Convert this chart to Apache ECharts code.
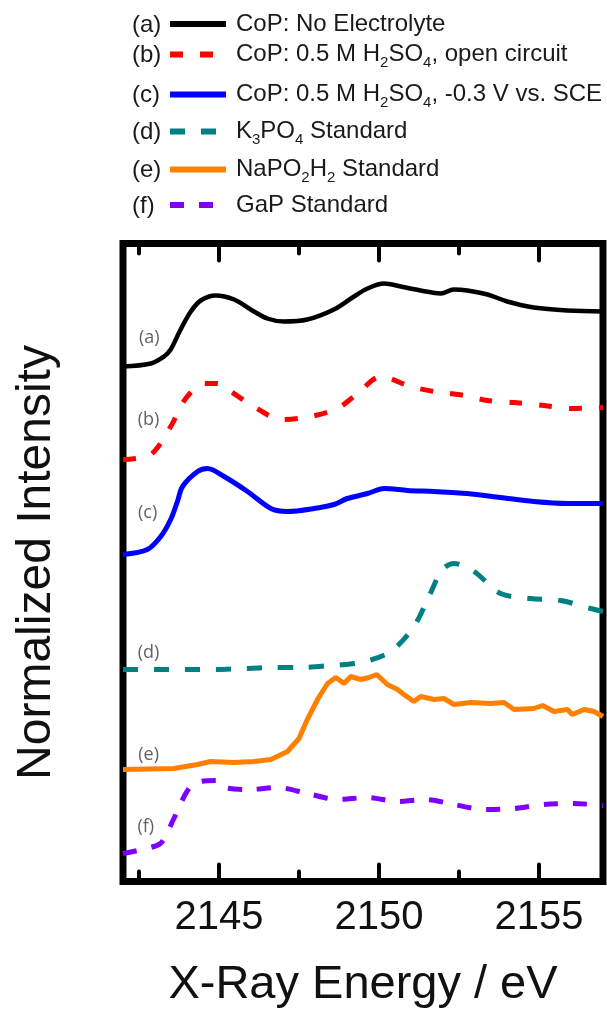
<!DOCTYPE html>
<html>
<head>
<meta charset="utf-8">
<script src="https://cdn.jsdelivr.net/npm/echarts@6/dist/echarts.min.js"></script>
<style>
  html, body { margin: 0; padding: 0; background: #fff; }
  #chart { width: 607px; height: 1013px; }
</style>
</head>
<body>
<div id="chart"></div>
<script>
// x-ray energy (eV), normalized intensity (offset, arb. units)
const curveA = [[2142.0,5.15],[2142.87,5.18],[2143.28,5.25],[2143.49,5.32],[2143.80,5.52],[2144.12,5.70],[2144.43,5.81],[2144.90,5.86],[2145.47,5.82],[2145.99,5.72],[2146.51,5.63],[2147.03,5.60],[2147.76,5.62],[2148.59,5.72],[2149.22,5.85],[2149.64,5.93],[2150.16,5.98],[2150.68,5.95],[2151.30,5.91],[2151.93,5.88],[2152.34,5.92],[2152.76,5.91],[2153.39,5.87],[2154.01,5.80],[2154.84,5.74],[2155.89,5.71],[2157.0,5.70]];
const curveB = [[2142.0,4.22],[2142.87,4.27],[2143.49,4.55],[2143.96,4.83],[2144.53,4.98],[2144.95,4.98],[2145.37,4.90],[2146.09,4.75],[2146.93,4.62],[2147.87,4.65],[2148.70,4.73],[2149.33,4.88],[2150.05,5.05],[2150.99,4.95],[2151.72,4.90],[2152.66,4.86],[2153.39,4.81],[2154.22,4.79],[2155.16,4.76],[2155.99,4.73],[2157.0,4.74]];
const curveC = [[2142.0,3.27],[2142.76,3.32],[2143.18,3.45],[2143.49,3.62],[2143.70,3.80],[2143.86,3.95],[2144.33,4.10],[2144.64,4.13],[2145.16,4.05],[2145.89,3.90],[2146.62,3.73],[2147.14,3.70],[2147.97,3.73],[2148.59,3.77],[2149.01,3.83],[2149.64,3.88],[2150.16,3.93],[2150.89,3.91],[2151.72,3.90],[2152.76,3.88],[2153.80,3.84],[2154.84,3.80],[2155.89,3.78],[2157.0,3.78]];
const curveD = [[2142.0,2.12],[2142.97,2.12],[2143.91,2.12],[2144.84,2.12],[2145.78,2.13],[2146.72,2.14],[2147.55,2.14],[2148.49,2.16],[2149.43,2.19],[2150.37,2.30],[2151.09,2.55],[2151.56,2.85],[2151.98,3.12],[2152.34,3.18],[2152.97,3.10],[2153.80,2.88],[2154.74,2.83],[2155.68,2.81],[2156.62,2.73],[2157.0,2.70]];
const curveE = [[2142.0,1.12],[2143.59,1.13],[2144.33,1.17],[2144.74,1.20],[2145.47,1.19],[2146.09,1.20],[2146.62,1.22],[2147.14,1.30],[2147.50,1.43],[2147.76,1.62],[2148.08,1.82],[2148.39,1.98],[2148.65,2.04],[2148.91,1.98],[2149.12,2.05],[2149.43,2.02],[2149.69,2.04],[2149.93,2.07],[2150.26,1.97],[2150.58,1.92],[2150.78,1.87],[2151.09,1.80],[2151.30,1.85],[2151.72,1.82],[2152.03,1.83],[2152.34,1.77],[2152.87,1.79],[2153.49,1.78],[2153.91,1.79],[2154.22,1.72],[2154.84,1.73],[2155.11,1.76],[2155.47,1.70],[2155.89,1.72],[2156.04,1.67],[2156.41,1.72],[2156.72,1.70],[2157.0,1.65]];
const curveF = [[2142.0,0.28],[2142.97,0.35],[2143.23,0.40],[2143.59,0.63],[2144.06,0.93],[2144.43,1.00],[2144.90,1.01],[2145.16,0.94],[2145.94,0.92],[2146.83,0.94],[2147.76,0.88],[2148.70,0.82],[2149.64,0.84],[2150.58,0.80],[2151.46,0.82],[2152.34,0.77],[2153.28,0.72],[2154.22,0.73],[2155.16,0.77],[2156.09,0.78],[2157.0,0.76]];

const seriesNames = [
    'CoP: No Electrolyte',
    'CoP: 0.5 M H_2SO_4, open circuit',
    'CoP: 0.5 M H_2SO_4, -0.3 V vs. SCE',
    'K_3PO_4 Standard',
    'NaPO_2H_2 Standard',
    'GaP Standard'
];
const seriesTags = ['(a)', '(b)', '(c)', '(d)', '(e)', '(f)'];
// where each tag sits on the plot (energy, intensity)
const tagPoints = [[2142.82,5.44],[2142.80,4.62],[2142.77,3.69],[2142.80,2.29],[2142.80,1.27],[2142.71,0.55]];
const majorTicks = [2145, 2150, 2155];
const minorTicks = [2142.5, 2147.5, 2152.5];

(function () {
    let chart = echarts.init(document.querySelector('#chart'));
    const curves = [curveA, curveB, curveC, curveD, curveE, curveF];
    const colors = ['#000000', '#ff0000', '#0000ff', '#008080', '#ff8000', '#7f00ff'];
    const dashes = ['solid', [13, 17], 'solid', [15, 16], 'solid', [14, 15]];
    const smooth = [0.35, 0.3, 0.3, 0.3, false, 0.3];
    const legendRows = [25, 55, 95, 132, 170, 206];
    const font = 'Liberation Sans';
    const xMin = 2142, xMax = 2157, yMin = 0, yMax = 6.38;

    // H_2 -> rich subscript
    function richName(name) {
        return name.split(/(_\d)/).filter(s => s).map(s =>
            s[0] === '_' ? '{s|' + s.slice(1) + '}' : '{m|' + s + '}'
        ).join('');
    }

    const legends = seriesNames.map((name, i) => ({
        data: [name],
        left: 167,
        top: legendRows[i] - (name.indexOf('_') >= 0 ? 16 : 13),
        padding: 0,
        itemWidth: 56,
        itemHeight: 14,
        selectedMode: false,
        formatter: richName,
        itemStyle: { opacity: 0 },
        lineStyle: { width: 6, type: dashes[i], color: colors[i], opacity: 1 },
        textStyle: {
            padding: [0, 0, 0, 5],
            rich: {
                m: { fontFamily: font, fontSize: 24, lineHeight: 26, color: '#1a1a1a', verticalAlign: 'middle' },
                s: { fontFamily: font, fontSize: 15, lineHeight: 16, color: '#1a1a1a', verticalAlign: 'middle', padding: [16, 0, 0, 0] }
            }
        }
    }));

    const prefixTexts = seriesTags.map((t, i) => ({
        type: 'text',
        x: 132,
        y: legendRows[i],
        style: { text: t, font: '24px "Liberation Sans"', fill: '#1a1a1a', verticalAlign: 'middle' }
    }));

    let series = curves.map((c, i) => ({
        name: seriesNames[i],
        type: 'line',
        data: c,
        showSymbol: false,
        symbol: 'none',
        smooth: smooth[i],
        lineStyle: { color: colors[i], width: i === 0 ? 4.5 : 5, type: dashes[i] },
        itemStyle: { color: colors[i] },
        z: 3
    }));
    series.push({
        name: 'tags',
        type: 'scatter',
        symbolSize: 0,
        silent: true,
        data: tagPoints.map((p, i) => [p[0], p[1], seriesTags[i]]),
        label: {
            show: true, position: 'inside',
            formatter: p => p.value[2],
            fontFamily: 'Open Sans', fontSize: 18, color: '#3a3a3a'
        },
        z: 4
    });

    let option = {
        animation: false,
        backgroundColor: '#fff',
        grid: {
            left: 123, right: 4, top: 243.5, bottom: 131.5,
            outerBoundsMode: 'none',
            show: true, borderColor: '#000', borderWidth: 7
        },
        legend: legends,
        graphic: prefixTexts,
        xAxis: {
            type: 'value',
            min: xMin,
            max: xMax,
            axisLine: { show: false, onZero: false },
            axisTick: { show: false },
            splitLine: { show: false },
            axisLabel: {
                show: true, customValues: majorTicks, margin: 16,
                formatter: v => String(v),
                fontFamily: font, fontSize: 40, color: '#111'
            },
            name: 'X-Ray Energy / eV',
            nameLocation: 'middle',
            nameGap: 80,
            nameTextStyle: { fontFamily: font, fontSize: 47, color: '#111' }
        },
        yAxis: {
            type: 'value',
            min: yMin,
            max: yMax,
            axisLine: { show: false },
            axisTick: { show: false },
            axisLabel: { show: false },
            splitLine: { show: false },
            name: 'Normalized Intensity',
            nameLocation: 'middle',
            nameGap: 62,
            nameTextStyle: { fontFamily: font, fontSize: 48, color: '#111' }
        },
        series: series
    };

    chart.setOption(option);

    // inward ticks on top and bottom of the frame, placed with the chart's own x scale
    function tickLines() {
        let lines = [];
        const marks = majorTicks.map(v => [v, 17]).concat(minorTicks.map(v => [v, 10]));
        marks.forEach(([v, len]) => {
            const b = chart.convertToPixel({ gridIndex: 0 }, [v, yMin]);
            const t = chart.convertToPixel({ gridIndex: 0 }, [v, yMax]);
            const st = { stroke: '#000', lineWidth: 4, lineCap: 'round' };
            lines.push({ type: 'line', z: 100, shape: { x1: b[0], y1: b[1], x2: b[0], y2: b[1] - len }, style: st });
            lines.push({ type: 'line', z: 100, shape: { x1: t[0], y1: t[1], x2: t[0], y2: t[1] + len }, style: st });
        });
        return lines;
    }
    chart.setOption({ graphic: prefixTexts.concat(tickLines()) });

    window.addEventListener('resize', () => {
        chart.resize();
        chart.setOption({ graphic: prefixTexts.concat(tickLines()) });
    });
})();
</script>
</body>
</html>
